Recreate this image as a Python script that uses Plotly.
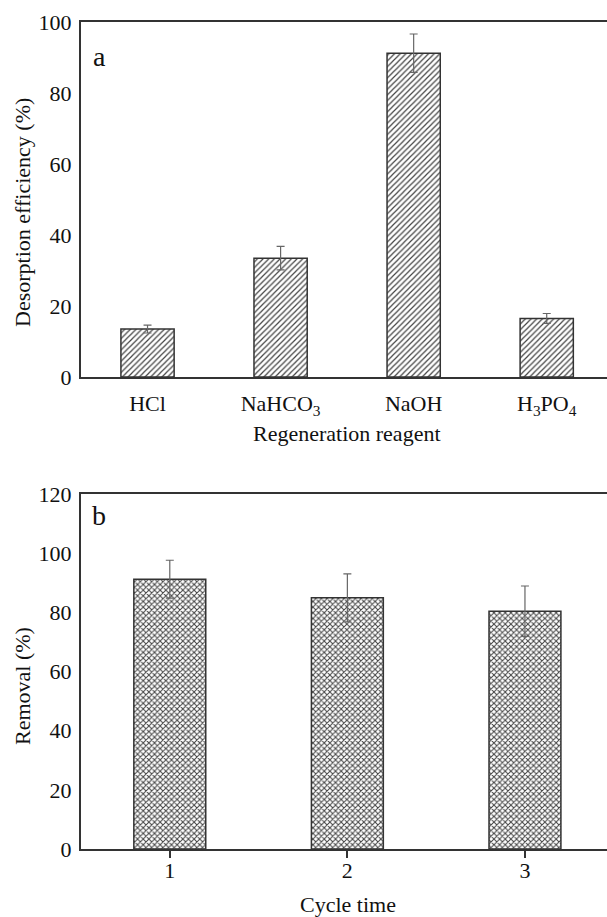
import plotly.graph_objects as go

# Panel a data
reagents = ["HCl", "NaHCO<sub>3</sub>", "NaOH", "H<sub>3</sub>PO<sub>4</sub>"]
desorption = [13.5, 33.5, 91.3, 16.5]
desorption_err = [1.1, 3.3, 5.4, 1.4]

# Panel b data
cycles = [1, 2, 3]
removal = [91.2, 84.9, 80.4]
removal_err = [6.4, 8.1, 8.5]

W, H = 607, 917
L = 81
FONT = "Liberation Serif, Times New Roman, serif"
AX = "#333333"

fig = go.Figure()

fig.add_trace(go.Bar(
    x=list(range(len(reagents))), y=desorption, width=0.4,
    marker=dict(color="white", line=dict(color=AX, width=1.5),
                pattern=dict(shape="/", size=4, solidity=0.3, fgcolor="#444444", bgcolor="white")),
    error_y=dict(type="data", array=desorption_err, color="#666666", thickness=1.2, width=4),
    xaxis="x", yaxis="y", showlegend=False))

fig.add_trace(go.Bar(
    x=cycles, y=removal, width=0.405,
    marker=dict(color="white", line=dict(color=AX, width=1.5),
                pattern=dict(shape="x", size=4, solidity=0.45, fgcolor="#444444", bgcolor="white")),
    error_y=dict(type="data", array=removal_err, color="#666666", thickness=1.2, width=4),
    xaxis="x2", yaxis="y2", showlegend=False))

def py(px):
    return 1 - px / H

def pxx(px):
    return (px - L) / (W - L)

common = dict(showgrid=False, zeroline=False, showline=True, linecolor=AX, linewidth=2,
              tickfont=dict(family=FONT, size=22, color="#111"))

fig.update_layout(
    width=W, height=H, margin=dict(l=L, r=0, t=0, b=0),
    paper_bgcolor="white", plot_bgcolor="white", template="none",
    font=dict(family=FONT, size=22, color="#111"),
    xaxis=dict(domain=[0, 1], range=[-0.5, 3.453], tickvals=list(range(len(reagents))),
               ticktext=reagents, ticks="", mirror=True, anchor="y",
               ticklabelstandoff=6, **common),
    yaxis=dict(domain=[py(377), py(22.3)], range=[0, 100], tickvals=[0, 20, 40, 60, 80, 100],
               ticks="", mirror=False, anchor="x", ticklabelstandoff=3, **common),
    xaxis2=dict(domain=[0, 1], range=[0.5, 3.462], tickvals=cycles, ticktext=[str(c) for c in cycles],
                ticks="outside", ticklen=7, tickwidth=1.5, tickcolor=AX, mirror=True, anchor="y2",
                ticklabelstandoff=-6, **common),
    yaxis2=dict(domain=[py(849), py(494)], range=[0, 120], tickvals=[0, 20, 40, 60, 80, 100, 120],
                ticks="", mirror=False, anchor="x2", ticklabelstandoff=3, **common),
)

ann = [
    dict(text="a", x=pxx(99), y=py(57), xanchor="center", yanchor="middle", font=dict(size=28)),
    dict(text="b", x=pxx(99), y=py(515), xanchor="center", yanchor="middle", font=dict(size=28)),
    dict(text="Regeneration reagent", x=pxx(347), y=py(433), xanchor="center", yanchor="middle"),
    dict(text="Cycle time", x=pxx(348), y=py(904), xanchor="center", yanchor="middle"),
    dict(text="Desorption efficiency (%)", x=pxx(22), y=py(213), xanchor="center", yanchor="middle", textangle=-90),
    dict(text="Removal (%)", x=pxx(22), y=py(686), xanchor="center", yanchor="middle", textangle=-90),
]
for a in ann:
    a.update(xref="paper", yref="paper", showarrow=False)
    a["font"] = dict(family=FONT, size=a.get("font", {}).get("size", 22), color="#111")
fig.update_layout(annotations=ann)

fig.write_html("out.html")
